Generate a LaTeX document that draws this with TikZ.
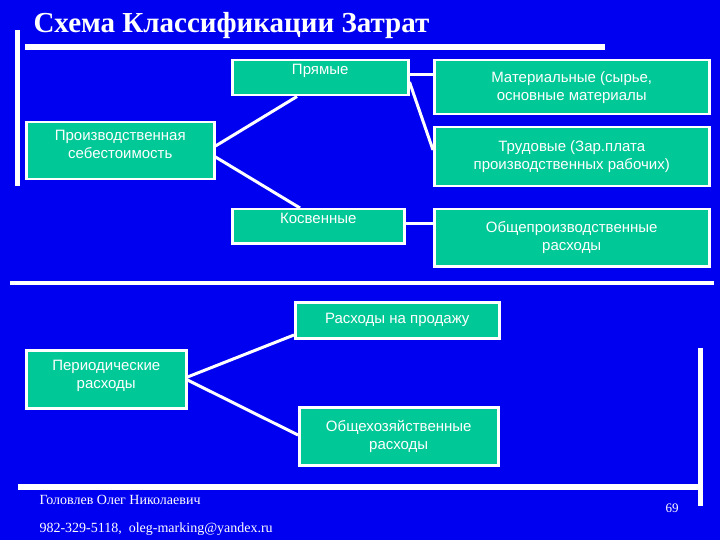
\documentclass[tikz,border=0pt]{standalone}
\usepackage{fontspec}
\setmainfont{Liberation Serif}
\newfontfamily\boxfont{Liberation Sans}
\definecolor{bg}{HTML}{0000F0}
\definecolor{teal}{HTML}{00C896}
\begin{document}
\begin{tikzpicture}[x=1pt,y=-1pt,
  box/.style={draw=white,line width=2.5pt,fill=teal,text=white,font=\boxfont\fontsize{15}{18}\selectfont,align=center,inner sep=0pt},
  link/.style={draw=white,line width=3pt},
  bar/.style={fill=white}]
\fill[bg] (0,0) rectangle (720,540);
\useasboundingbox (0,0) rectangle (720,540);
\node[anchor=base west,text=white,font=\bfseries\fontsize{29}{32}\selectfont] (title) at (30,33) {Схема Классификации Затрат};
\fill[bar] (25,44) rectangle (605,50);
\fill[bar] (15,30) rectangle (20,186);
\fill[bar] (10,281) rectangle (714,285);
\fill[bar] (698,348) rectangle (703,506);
\fill[bar] (18,484) rectangle (702,490);
% boxes
\node[box,minimum width=176pt,minimum height=35pt,anchor=north west,text depth=16pt] (pr) at (231,59) {Прямые};
\node[box,minimum width=275pt,minimum height=54pt,anchor=north west] (mat) at (433,59) {Материальные (сырье,\\основные материалы};
\node[box,minimum width=188pt,minimum height=57pt,anchor=north west,text depth=12pt] (ps) at (25,121) {Производственная\\себестоимость};
\node[box,minimum width=275pt,minimum height=59pt,anchor=north west] (tr) at (433,126) {Трудовые (Зар.плата\\производственных рабочих)};
\node[box,minimum width=172pt,minimum height=34pt,anchor=north west,text depth=16pt] (kos) at (231,208) {Косвенные};
\node[box,minimum width=275pt,minimum height=57pt,anchor=north west] (ob) at (433,208) {Общепроизводственные\\расходы};
\node[box,minimum width=204pt,minimum height=36pt,anchor=north west] (prod) at (294,301) {Расходы на продажу};
\node[box,minimum width=160pt,minimum height=58pt,anchor=north west,text depth=10pt] (per) at (25,349) {Периодические\\расходы};
\node[box,minimum width=199pt,minimum height=58pt,anchor=north west] (oh) at (298,406) {Общехозяйственные\\расходы};
% links
\draw[link] (ps.east |- 0,146) -- (pr.south -| 297,0);
\draw[link] (ps.east |- 0,157) -- (kos.north -| 300,0);
\draw[link] (pr.east |- 0,75) -- (mat.west |- 0,75);
\draw[link] (pr.east |- 0,82) -- (tr.west |- 0,150);
\draw[link] (kos.east |- 0,224) -- (ob.west |- 0,224);
\draw[link] (per.east |- 0,377) -- (prod.west |- 0,335);
\draw[link] (per.east |- 0,380) -- (oh.west |- 0,435);
% footer
\node[anchor=base west,text=white,font=\fontsize{14}{16}\selectfont] (f1) at (36,504) {Головлев Олег Николаевич};
\node[anchor=base west,text=white,font=\fontsize{14}{16}\selectfont] (f2) at (36,532) {982-329-5118,\ \ oleg-marking@yandex.ru};
\node[anchor=base west,text=white,font=\fontsize{13}{16}\selectfont] (pg) at (662,512) {69};
\end{tikzpicture}
\end{document}
